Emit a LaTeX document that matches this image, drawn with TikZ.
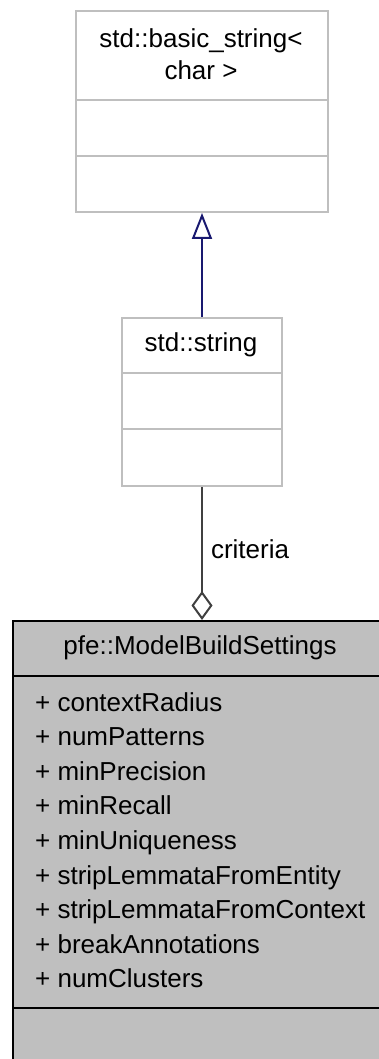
\documentclass[tikz,border=0pt]{standalone}
\usepackage{fontspec}
\setmainfont{Liberation Sans}
\usetikzlibrary{arrows.meta}
\begin{document}
\begin{tikzpicture}[x=1pt,y=-1pt,
  umlbox/.style={draw=black!25,line width=2pt,fill=white,inner sep=0pt,anchor=north west},
  mainbox/.style={draw=black,line width=2pt,fill=black!25,inner sep=0pt,anchor=north west},
  divider/.style={line width=2pt},
  txt/.style={font=\fontsize{26}{34.6}\selectfont,inner sep=0pt},
  inherit/.style={line width=2pt,-{Triangle[open,width=20pt,length=26pt]}},
  aggregate/.style={draw=black!75,line width=2pt,-{Diamond[open,width=21pt,length=29pt]}}]
\useasboundingbox (0,0) rectangle (378,1059);
\definecolor{navy}{HTML}{191970}
\tikzset{inherit/.append style={draw=navy}}

% std::basic_string< char >
\node[umlbox,minimum width=252pt,minimum height=201pt] (base) at (75,10) {};
\draw[divider,black!25] (75,100) -- (327,100);
\draw[divider,black!25] (75,156) -- (327,156);
\node[txt,align=center,font=\fontsize{26}{32}\selectfont] (basetitle) at (201,54) {std::basic\_string<\\char >};

% std::string
\node[umlbox,minimum width=160pt,minimum height=168pt] (str) at (121,317) {};
\draw[divider,black!25] (121,373) -- (281,373);
\draw[divider,black!25] (121,429) -- (281,429);
\node[txt] (strtitle) at (201,345) {std::string};

% pfe::ModelBuildSettings
\node[mainbox,minimum width=380pt,minimum height=460pt] (mbs) at (12,620) {};
\draw[divider] (12,676) -- (392,676);
\draw[divider] (12,1008) -- (392,1008);
\node[txt] (mbstitle) at (200,648) {pfe::ModelBuildSettings};
\node[txt,align=left,anchor=north west] (members) at (35,692)
  {+ contextRadius\\+ numPatterns\\+ minPrecision\\+ minRecall\\+ minUniqueness\\+ stripLemmataFromEntity\\+ stripLemmataFromContext\\+ breakAnnotations\\+ numClusters};

% connectors
\draw[inherit] (str.north) -- (base.south);
\draw[aggregate] (str.south) -- node[txt,right=8pt,pos=0.47] (lbl) {criteria} (mbs.north -| str.south);
\end{tikzpicture}
\end{document}
